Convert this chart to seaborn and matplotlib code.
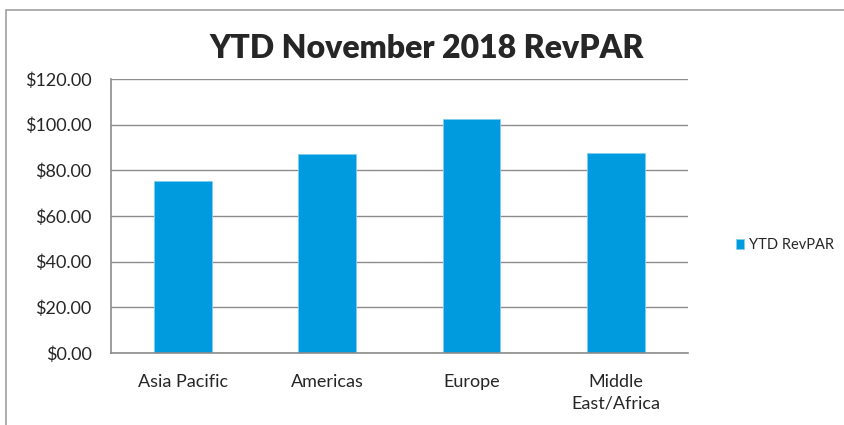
import pandas as pd
import matplotlib.pyplot as plt
import seaborn as sns
from matplotlib.patches import Rectangle

regions = ['Asia Pacific', 'Americas', 'Europe', 'Middle\nEast/Africa']
revpar = [75.5, 87.3, 102.3, 87.6]
series_name = 'YTD RevPAR'
yticks = [0, 20, 40, 60, 80, 100, 120]

df = pd.DataFrame({'region': regions, 'revpar': revpar, 'series': series_name})

sns.set_style("white")
plt.rcParams['font.family'] = ['Lato', 'DejaVu Sans']

fig = plt.figure(figsize=(8.44, 4.25), dpi=100)
ax = fig.add_axes([0.1315, 0.1694, 0.6835, 0.6446])

sns.barplot(data=df, x='region', y='revpar', hue='series', palette=['#009BDE'],
            saturation=1, width=0.4, edgecolor='#7FCFF0', linewidth=0.6, ax=ax)

ax.set_ylim(0, 120)
ax.set_xlim(-0.5, 3.5)
ax.set_yticks(yticks)
ax.set_yticklabels([f'${v:.2f}' for v in yticks], fontsize=13)
ax.set_xticks(range(len(regions)))
ax.set_xticklabels(regions, fontsize=13, linespacing=1.45)
ax.tick_params(axis='x', pad=15, length=0)
ax.tick_params(axis='y', length=0, pad=14)
ax.set_xlabel('')
ax.set_ylabel('')
ax.yaxis.grid(True, color='#8C8C8C', linewidth=1)
ax.set_axisbelow(True)
for s in ['top', 'right']:
    ax.spines[s].set_visible(False)
for s in ['left', 'bottom']:
    ax.spines[s].set_color('#8C8C8C')
    ax.spines[s].set_linewidth(1.2)

fig.text(0.506, 0.885, 'YTD November 2018 RevPAR', ha='center', va='center',
         fontsize=23, fontweight='heavy')

leg = ax.legend(loc='center left', bbox_to_anchor=(1.06, 0.394), frameon=False,
                fontsize=10.5, handlelength=0.6, handleheight=0.6, handletextpad=0.3)

# outer chart frame, cropped at right and bottom
fig.patches.append(Rectangle((0.007, -0.05), 1.1, 1.026, transform=fig.transFigure,
                             fill=False, edgecolor='#A0A0A0', linewidth=1.2))

fig.savefig('out.png', dpi=100)
